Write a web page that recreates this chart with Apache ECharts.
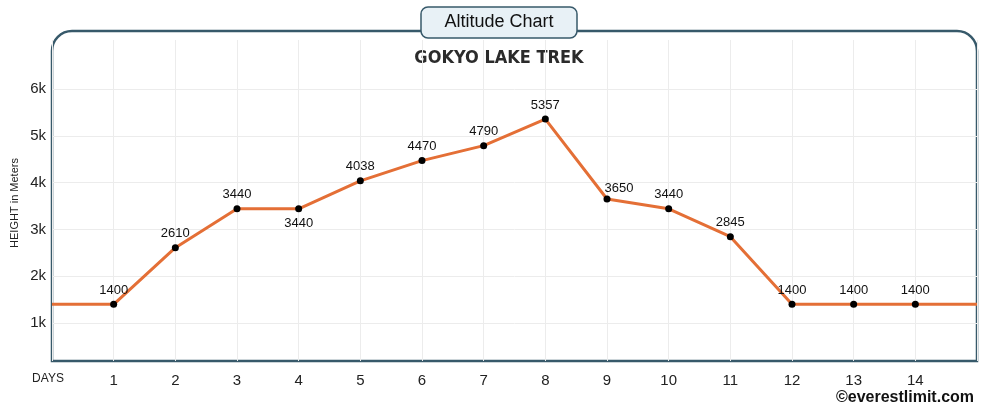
<!DOCTYPE html><html><head><meta charset="utf-8"><script src="https://cdn.jsdelivr.net/npm/echarts@6/dist/echarts.min.js"></script></head><body style="margin:0"><div id="c" style="width:1000px;height:408px"></div><script>
const days=[1,2,3,4,5,6,7,8,9,10,11,12,13,14];
const heights=[1400,2610,3440,3440,4038,4470,4790,5357,3650,3440,2845,1400,1400,1400];
const yTicks=[1000,2000,3000,4000,5000,6000];
const edgeStart=[0,1400], edgeEnd=[15,1400];
const ch=echarts.init(document.getElementById('c'));
const below={4:1}, right={9:1};
const pts=days.map((d,i)=>{
 const o={value:[d,heights[i]]};
 if(below[d]) o.label={position:'bottom',distance:5};
 if(right[d]) o.label={position:'top',distance:1,offset:[12,0]};
 return o;});
ch.setOption({
animation:false,
grid:{left:52,right:23,top:40,bottom:47},
xAxis:{type:'value',min:0,max:15,interval:1,axisLine:{show:false},axisTick:{show:false},
 splitLine:{lineStyle:{color:'#ececec'}},
 axisLabel:{margin:12,fontSize:15,color:'#222',fontFamily:'Liberation Sans',formatter:v=>v===0?'{d|DAYS}':(v===15?'':v),rich:{d:{fontSize:12,color:'#222',padding:[0,8,0,0]}}}},
yAxis:{type:'value',min:188,max:7047,splitLine:{show:false},axisLine:{show:false},axisTick:{show:false},axisLabel:{show:false}},
graphic:[
 {type:'rect',z:-1,shape:{x:52,y:31,width:925,height:330,r:[20,20,0,0]},style:{fill:'none',stroke:'#37596a',lineWidth:2.5}},
 {type:'rect',z:10,shape:{x:421,y:7,width:156,height:31,r:7},style:{fill:'#e8f1f6',stroke:'#37596a',lineWidth:1.5}},
 {type:'text',z:11,x:499,y:22,style:{text:'Altitude Chart',fill:'#111',font:'18px "Liberation Sans"',align:'center',verticalAlign:'middle'}},
 {type:'text',x:499,y:58,style:{text:'GOKYO LAKE TREK',fill:'#2b2b2b',font:'bold 18px "DejaVu Sans Condensed"',align:'center',verticalAlign:'middle'}},
 {type:'text',x:15,y:203,rotation:Math.PI/2,style:{text:'HEIGHT in Meters',fill:'#222',font:'11px "Liberation Sans"',align:'center',verticalAlign:'middle'}},
 {type:'text',x:905,y:398,style:{text:'©everestlimit.com',fill:'#111',font:'bold 16px "Liberation Sans"',align:'center',verticalAlign:'middle'}}
],
series:[
 {type:'line',data:[{value:edgeStart}].concat(pts,[{value:edgeEnd}]),lineStyle:{color:'#e46f36',width:3},
  symbol:'circle',symbolSize:(v,p)=>(p.dataIndex===0||p.dataIndex===15)?0:7,itemStyle:{color:'#000'},
  label:{show:true,position:'top',distance:4,fontSize:13,color:'#111',fontFamily:'Liberation Sans',formatter:p=>(p.dataIndex===0||p.dataIndex===15)?'':p.value[1]},
  markLine:{silent:true,symbol:'none',label:{show:true,position:'start',formatter:p=>(p.value/1000)+'k',fontSize:15,color:'#222',fontFamily:'Liberation Sans',distance:6},
   lineStyle:{color:'#ececec',type:'solid',width:1},data:yTicks.map(v=>({yAxis:v})),z:0}}
]});
</script></body></html>
